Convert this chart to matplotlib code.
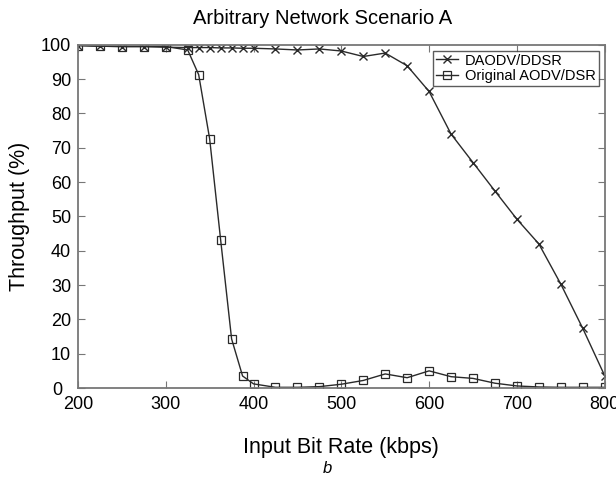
import matplotlib
matplotlib.use("Agg")
import matplotlib.pyplot as plt
from matplotlib.transforms import ScaledTranslation

plt.rcParams['font.family'] = ['Liberation Sans', 'DejaVu Sans']

x_rate = [200, 225, 250, 275, 300, 325, 337.5, 350, 362.5, 375, 387.5, 400,
          425, 450, 475, 500, 525, 550, 575, 600, 625, 650, 675, 700, 725, 750, 775, 800]
daodv = [99.8, 99.6, 99.5, 99.5, 99.3, 99.2, 99.2, 99.2, 99.1, 99.1, 99.0, 99.0,
         98.8, 98.5, 98.8, 98.2, 96.6, 97.6, 93.9, 86.4, 74.0, 65.7, 57.4, 49.2,
         42.0, 30.3, 17.4, 3.6]
original = [99.8, 99.6, 99.5, 99.5, 99.5, 98.5, 91.3, 72.6, 43.2, 14.3, 3.5, 1.2,
            0.2, 0.2, 0.4, 1.1, 2.2, 4.1, 3.0, 5.0, 3.3, 2.8, 1.4, 0.6,
            0.3, 0.2, 0.2, 0.2]

xticks = [200, 300, 400, 500, 600, 700, 800]
yticks = [0, 10, 20, 30, 40, 50, 60, 70, 80, 90, 100]

fig = plt.figure(figsize=(6.16, 4.82), dpi=100)
ax = fig.add_axes([0.1266, 0.195, 0.855, 0.712])
col = '#2a2a2a'
ax.plot(x_rate, daodv, color=col, lw=1.0, marker='x', ms=6, mew=1.0, label='DAODV/DDSR')
ax.plot(x_rate, original, color=col, lw=1.0, marker='s', ms=6.2, mfc='none', mew=0.9,
        label='Original AODV/DSR')
ax.set_xlim(200, 800)
ax.set_ylim(0, 100)
ax.set_xticks(xticks)
ax.set_yticks(yticks)
ax.tick_params(direction='in', top=True, right=True, labelsize=13, length=5,
               color='#777777')
ax.tick_params(axis='y', pad=5)
ax.tick_params(axis='x', pad=6)
for s in ax.spines.values():
    s.set_color('#777777')
    s.set_linewidth(1.3)
# the "0" label sits further left in the reference, clear of "200"
zero_lbl = ax.get_yticklabels()[0]
zero_lbl.set_transform(zero_lbl.get_transform() + ScaledTranslation(-9 / 100, 0, fig.dpi_scale_trans))
fig.text(0.524, 0.962, 'Arbitrary Network Scenario A', fontsize=14.5, ha='center', va='center')
ax.set_ylabel('Throughput (%)', fontsize=15.5, labelpad=8)
ax.set_xlabel('Input Bit Rate (kbps)', fontsize=15.5, labelpad=17)
fig.text(0.531, 0.029, 'b', fontsize=12, style='italic', ha='center', va='center')
leg = ax.legend(loc='upper right', fontsize=10.5, frameon=True, fancybox=False,
                edgecolor='#333333', borderpad=0.2, handlelength=1.5, labelspacing=0.1,
                borderaxespad=0.4, handletextpad=0.5)
leg.get_frame().set_linewidth(1.0)
fig.savefig('out.png', dpi=100)
